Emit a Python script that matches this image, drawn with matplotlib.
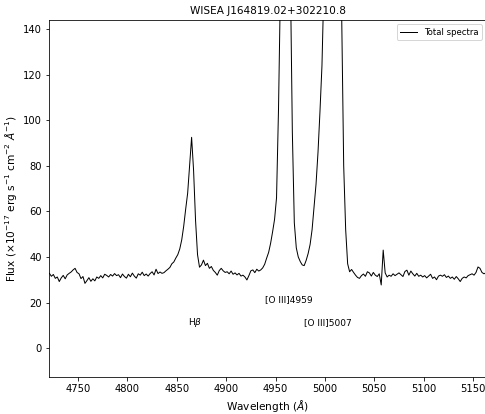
import numpy as np
import matplotlib
matplotlib.use("Agg")
import matplotlib.pyplot as plt

# wavelength grid (Angstrom), 2 A steps
wave = np.arange(4721, 5164, 2)

# flux in units of 1e-17 erg/s/cm^2/A
flux = np.array([
    32.8, 31.5, 32.3, 30.6, 31.2, 29.2, 30.8, 31.9, 30.4, 32.1,   # 4721-4739
    32.8, 33.4, 34.3, 35.0, 33.2, 32.6, 30.5, 31.4, 28.4, 29.6,   # 4741-4759
    30.9, 29.3, 30.4, 29.5, 31.2, 30.6, 31.8, 30.8, 32.4, 31.9,   # 4761-4779
    31.2, 32.3, 31.6, 32.7, 31.8, 32.2, 30.9, 32.5, 31.4, 30.7,   # 4781-4799
    32.4, 31.3, 32.9, 31.6, 30.7, 32.6, 32.0, 33.3, 31.8, 32.5,   # 4801-4819
    31.6, 32.7, 33.5, 32.1, 34.6, 32.7, 33.4, 32.8, 33.1, 33.9,   # 4821-4839
    34.6, 35.4, 37.0, 37.8, 39.5, 41.0, 43.5, 47.5, 53.5, 61.0,   # 4841-4859
    68.0, 80.0, 92.5, 78.0, 56.0, 41.0, 35.5, 36.5, 38.6, 36.2,   # 4861-4879
    37.2, 35.0, 35.8, 34.1, 33.2, 32.0, 34.0, 35.0, 33.9, 33.2,   # 4881-4899
    33.5, 32.6, 33.8, 32.4, 33.0, 32.1, 32.8, 31.6, 32.0, 31.2,   # 4901-4919
    29.9, 31.8, 33.9, 34.3, 33.1, 34.6, 33.8, 34.3, 35.2, 36.8,   # 4921-4939
    39.5, 42.0, 46.0, 51.0, 56.5, 66.0, 105., 160., 250., 320.,   # 4941-4959
    330., 260., 165., 95.0, 55.0, 44.0, 40.0, 38.0, 36.5, 36.2,   # 4961-4979
    38.5, 41.5, 45.5, 52.0, 62.0, 72.0, 86.0, 104., 124., 160.,   # 4981-4999
    300., 560., 820., 930., 860., 650., 420., 240., 145., 80.0,   # 5001-5019
    52.0, 37.0, 33.5, 34.5, 33.2, 32.0, 31.0, 30.6, 31.8, 32.5,   # 5021-5039
    31.5, 33.5, 33.0, 31.6, 33.2, 32.0, 31.4, 32.6, 27.7, 43.0,   # 5041-5059
    33.0, 31.2, 32.0, 31.5, 32.6, 31.8, 32.4, 33.0, 32.2, 31.4,   # 5061-5079
    33.6, 34.2, 32.0, 33.8, 32.6, 31.6, 32.8, 31.5, 32.0, 31.2,   # 5081-5099
    31.8, 30.8, 31.6, 32.4, 30.6, 31.2, 30.0, 31.6, 32.0, 31.5,   # 5101-5119
    32.2, 31.0, 31.6, 30.6, 31.2, 30.2, 31.4, 30.4, 29.2, 30.6,   # 5121-5139
    31.2, 30.8, 31.8, 32.2, 32.6, 32.0, 33.2, 35.6, 35.0, 33.2,   # 5141-5159
    32.6, 33.0,                                                   # 5161-5163
])

# line labels: text, x, y
line_names = ["H$\\beta$", "[O III]4959", "[O III]5007"]
line_x = [4861, 4939, 4979]
line_y = [10, 20, 10]

fig = plt.figure(figsize=(485 / 72, 414 / 72), dpi=72)
ax = fig.add_axes([49 / 485, 37 / 414, 437 / 485, 357 / 414])

ax.plot(wave, flux, color="black", lw=1.0, label="Total spectra")

for name, x, y in zip(line_names, line_x, line_y):
    ax.text(x, y, name, fontsize=9)

ax.set_xlim(4720.6, 5163.1)
ax.set_ylim(-12.7, 144)
ax.set_xlabel("Wavelength ($\\AA$)", fontsize=10.5)
ax.set_ylabel("Flux ($\\times10^{-17}$ erg s$^{-1}$ cm$^{-2}$ $\\AA^{-1}$)", fontsize=10.5)
ax.set_title("WISEA J164819.02+302210.8", fontsize=10.5)
ax.legend(loc="upper right", fontsize=8.5)

fig.savefig("out.png", dpi=72)
